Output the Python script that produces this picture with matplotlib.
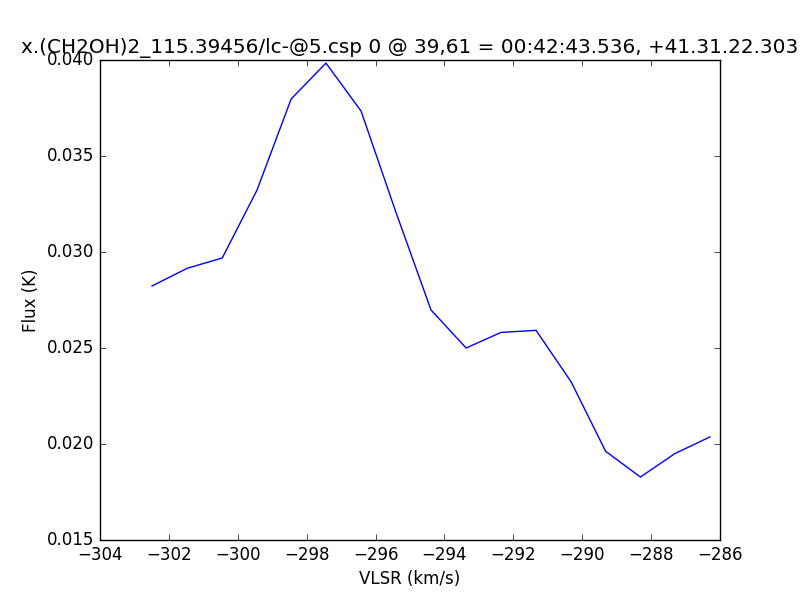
import matplotlib
matplotlib.use("Agg")
import matplotlib.pyplot as plt

plt.style.use("classic")

vlsr = [-302.49, -301.47, -300.45, -299.44, -298.45, -297.44, -296.42, -295.41,
        -294.39, -293.37, -292.36, -291.34, -290.32, -289.32, -288.31, -287.31, -286.29]
flux = [0.02823, 0.02915, 0.02969, 0.03323, 0.03797, 0.03984, 0.03734, 0.03208,
        0.02698, 0.02500, 0.02581, 0.02592, 0.02323, 0.01962, 0.01828, 0.01950, 0.02037]

title = "x.(CH2OH)2_115.39456/lc-@5.csp 0 @ 39,61 = 00:42:43.536, +41.31.22.303"

fig = plt.figure(figsize=(8, 6), dpi=100, facecolor="white")
ax = fig.add_subplot(111)
ax.plot(vlsr, flux, color="b")
ax.set_xlim(-304, -286)
ax.set_ylim(0.015, 0.040)
ax.set_xticks(range(-304, -285, 2))
ax.set_yticks([0.015, 0.020, 0.025, 0.030, 0.035, 0.040])
ax.set_xlabel("VLSR (km/s)")
ax.set_ylabel("Flux (K)")
ax.set_title(title)

fig.savefig("out.png", dpi=100, facecolor="white")
